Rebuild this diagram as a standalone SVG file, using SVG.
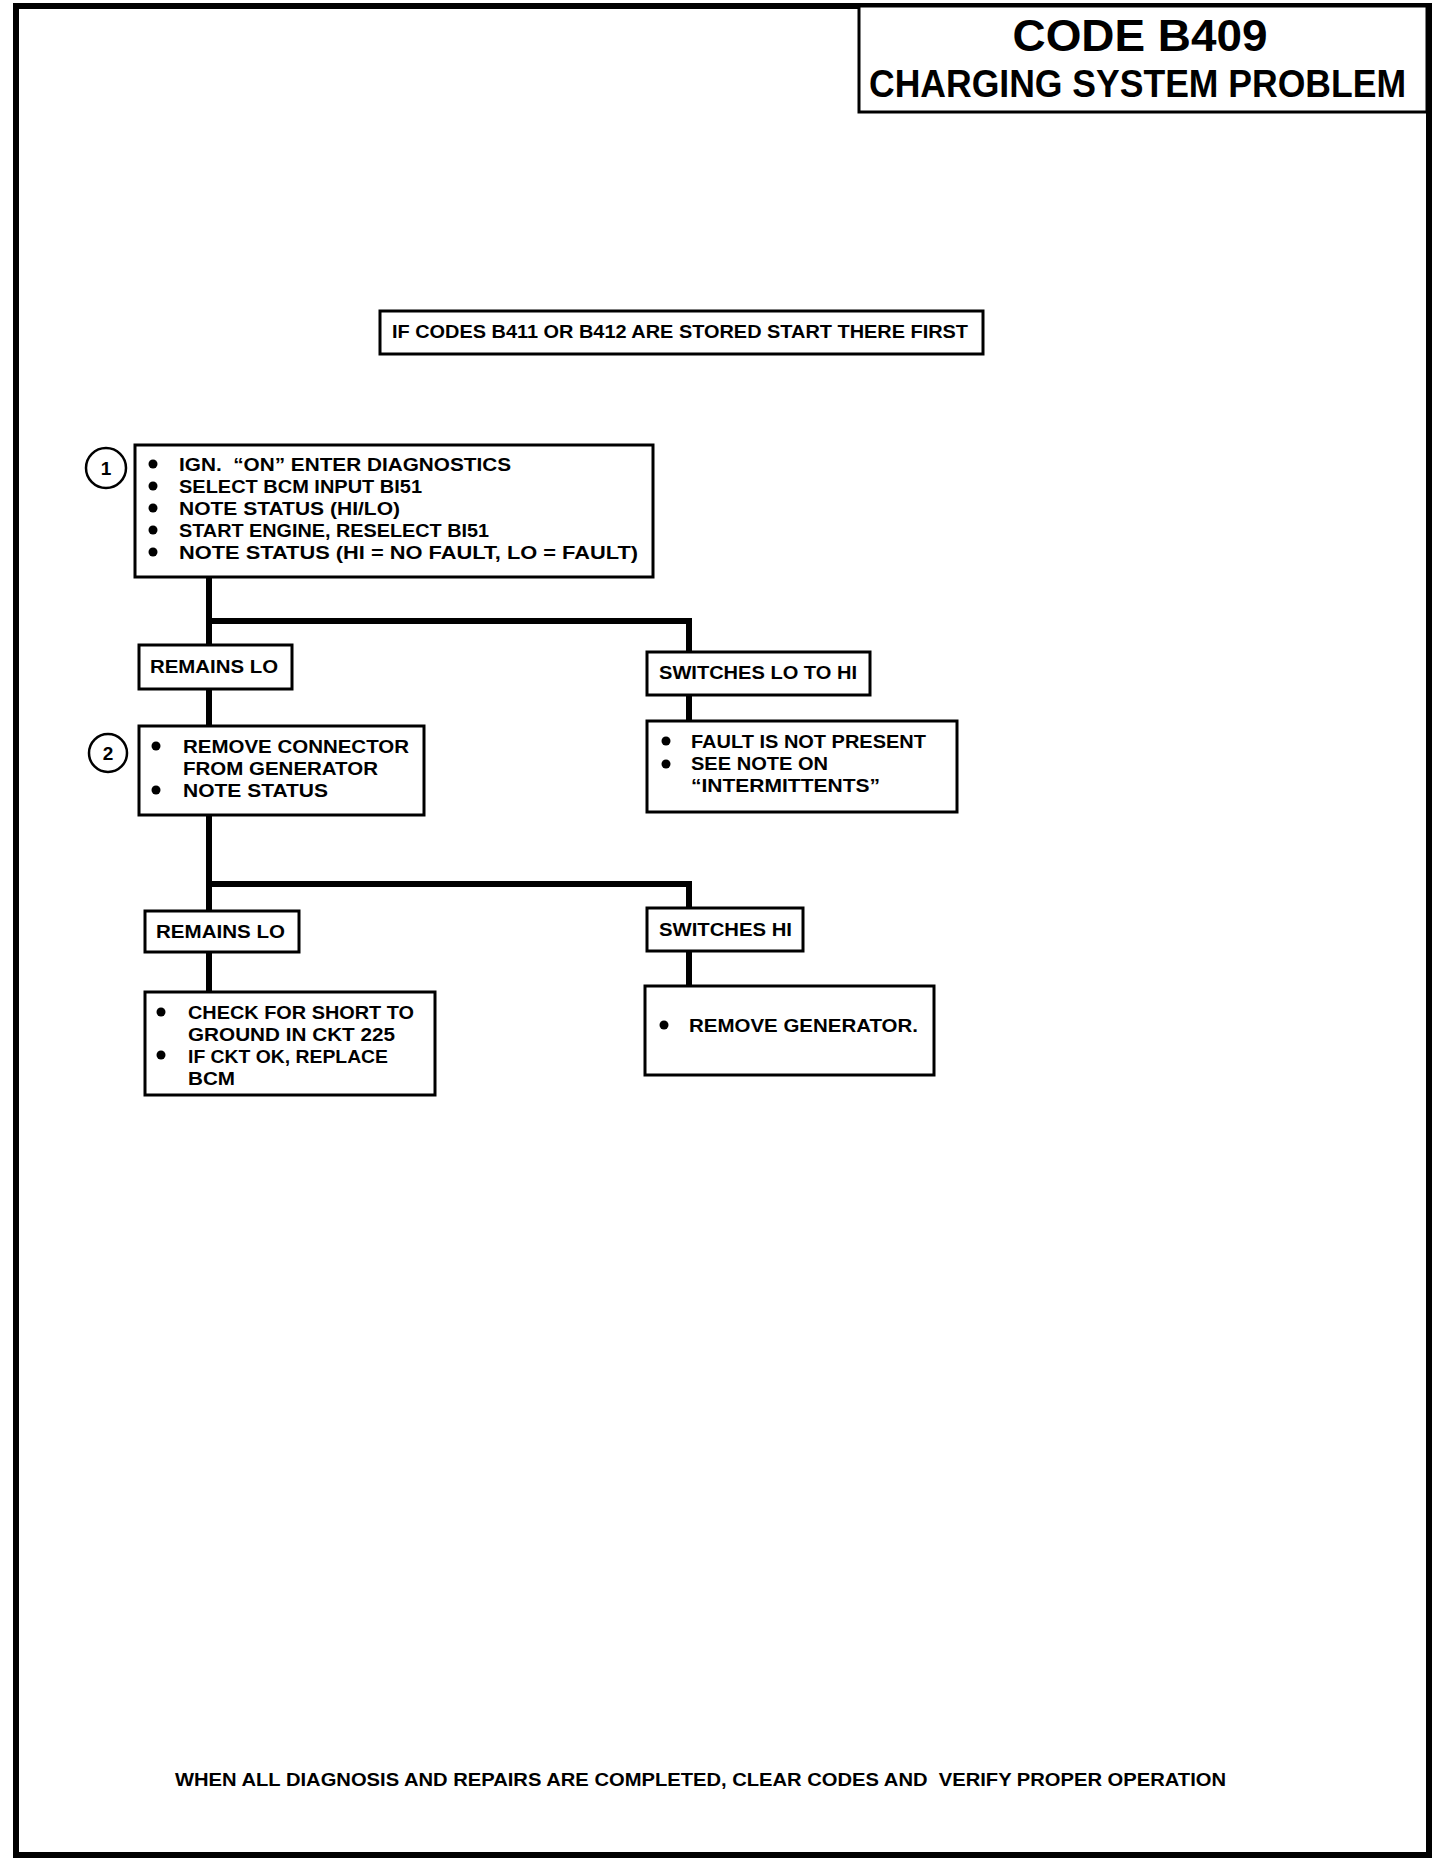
<svg xmlns="http://www.w3.org/2000/svg" width="1456" height="1862" viewBox="0 0 1456 1862">
<style>
.box{fill:#fff;stroke:#000;stroke-width:3}
.t{font-family:"Liberation Sans",Arial,sans-serif;font-weight:bold;font-size:19px;fill:#000}
.h1{font-family:"Liberation Sans",Arial,sans-serif;font-weight:bold;font-size:45px;fill:#000}
.h2{font-family:"Liberation Sans",Arial,sans-serif;font-weight:bold;font-size:38px;fill:#000}
.conn{fill:none;stroke:#000;stroke-width:6;stroke-linecap:square}
.num{fill:#fff;stroke:#000;stroke-width:2.5}
</style>
<rect x="0" y="0" width="1456" height="1862" fill="#fff"/>
<rect x="16" y="6" width="1413" height="1849" fill="none" stroke="#000" stroke-width="6"/>
<g id="title">
<rect x="859" y="6" width="568" height="106" fill="#fff" stroke="#000" stroke-width="3"/>
<text class="h1" x="1140" y="51" text-anchor="middle" textLength="255" lengthAdjust="spacingAndGlyphs">CODE B409</text>
<text class="h2" x="869" y="97" textLength="537" lengthAdjust="spacingAndGlyphs">CHARGING SYSTEM PROBLEM</text>
</g>
<g id="connectors">
<polyline class="conn" points="209,577 209,645"/>
<polyline class="conn" points="209,621 689,621 689,652"/>
<polyline class="conn" points="209,689 209,726"/>
<polyline class="conn" points="689,695 689,721"/>
<polyline class="conn" points="209,815 209,911"/>
<polyline class="conn" points="209,884 689,884 689,908"/>
<polyline class="conn" points="209,952 209,992"/>
<polyline class="conn" points="689,951 689,986"/>
</g>
<g id="note">
<rect class="box" x="380" y="311" width="603" height="43"/>
<text class="t" x="392" y="338" textLength="576" lengthAdjust="spacingAndGlyphs">IF CODES B411 OR B412 ARE STORED START THERE FIRST</text>
</g>
<g id="step1">
<circle class="num" cx="106" cy="468" r="20"/>
<text class="t" x="106" y="475" text-anchor="middle">1</text>
<rect class="box" x="135" y="445" width="518" height="132"/>
<circle cx="153" cy="464" r="4.5"/><circle cx="153" cy="486" r="4.5"/><circle cx="153" cy="508" r="4.5"/><circle cx="153" cy="530" r="4.5"/><circle cx="153" cy="552" r="4.5"/>
<text class="t" x="179" y="471" xml:space="preserve" textLength="332" lengthAdjust="spacingAndGlyphs">IGN.  “ON” ENTER DIAGNOSTICS</text>
<text class="t" x="179" y="493" textLength="243" lengthAdjust="spacingAndGlyphs">SELECT BCM INPUT BI51</text>
<text class="t" x="179" y="515" textLength="221" lengthAdjust="spacingAndGlyphs">NOTE STATUS (HI/LO)</text>
<text class="t" x="179" y="537" textLength="310" lengthAdjust="spacingAndGlyphs">START ENGINE, RESELECT BI51</text>
<text class="t" x="179" y="559" textLength="459" lengthAdjust="spacingAndGlyphs">NOTE STATUS (HI = NO FAULT, LO = FAULT)</text>
</g>
<g id="remainsLo1">
<rect class="box" x="139" y="645" width="153" height="44"/>
<text class="t" x="150" y="673" textLength="128" lengthAdjust="spacingAndGlyphs">REMAINS LO</text>
</g>
<g id="switchesLoToHi">
<rect class="box" x="647" y="652" width="223" height="43"/>
<text class="t" x="659" y="679" textLength="198" lengthAdjust="spacingAndGlyphs">SWITCHES LO TO HI</text>
</g>
<g id="step2">
<circle class="num" cx="108" cy="753" r="19"/>
<text class="t" x="108" y="760" text-anchor="middle">2</text>
<rect class="box" x="139" y="726" width="285" height="89"/>
<circle cx="156" cy="746" r="4.5"/><circle cx="156" cy="790" r="4.5"/>
<text class="t" x="183" y="753" textLength="226" lengthAdjust="spacingAndGlyphs">REMOVE CONNECTOR</text>
<text class="t" x="183" y="775" textLength="195" lengthAdjust="spacingAndGlyphs">FROM GENERATOR</text>
<text class="t" x="183" y="797" textLength="145" lengthAdjust="spacingAndGlyphs">NOTE STATUS</text>
</g>
<g id="faultNotPresent">
<rect class="box" x="647" y="721" width="310" height="91"/>
<circle cx="666" cy="741" r="4.5"/><circle cx="666" cy="764" r="4.5"/>
<text class="t" x="691" y="748" textLength="235" lengthAdjust="spacingAndGlyphs">FAULT IS NOT PRESENT</text>
<text class="t" x="691" y="770" textLength="137" lengthAdjust="spacingAndGlyphs">SEE NOTE ON</text>
<text class="t" x="691" y="792" textLength="189" lengthAdjust="spacingAndGlyphs">“INTERMITTENTS”</text>
</g>
<g id="remainsLo2">
<rect class="box" x="145" y="911" width="154" height="41"/>
<text class="t" x="156" y="938" textLength="129" lengthAdjust="spacingAndGlyphs">REMAINS LO</text>
</g>
<g id="switchesHi">
<rect class="box" x="647" y="908" width="156" height="43"/>
<text class="t" x="659" y="936" textLength="133" lengthAdjust="spacingAndGlyphs">SWITCHES HI</text>
</g>
<g id="checkShort">
<rect class="box" x="145" y="992" width="290" height="103"/>
<circle cx="161" cy="1012" r="4.5"/><circle cx="161" cy="1055" r="4.5"/>
<text class="t" x="188" y="1019" textLength="226" lengthAdjust="spacingAndGlyphs">CHECK FOR SHORT TO</text>
<text class="t" x="188" y="1041" textLength="207" lengthAdjust="spacingAndGlyphs">GROUND IN CKT 225</text>
<text class="t" x="188" y="1063" textLength="200" lengthAdjust="spacingAndGlyphs">IF CKT OK, REPLACE</text>
<text class="t" x="188" y="1085" textLength="47" lengthAdjust="spacingAndGlyphs">BCM</text>
</g>
<g id="removeGenerator">
<rect class="box" x="645" y="986" width="289" height="89"/>
<circle cx="664" cy="1025" r="4.5"/>
<text class="t" x="689" y="1032" textLength="229" lengthAdjust="spacingAndGlyphs">REMOVE GENERATOR.</text>
</g>
<g id="footer">
<text class="t" x="175" y="1786" xml:space="preserve" textLength="1051" lengthAdjust="spacingAndGlyphs">WHEN ALL DIAGNOSIS AND REPAIRS ARE COMPLETED, CLEAR CODES AND  VERIFY PROPER OPERATION</text>
</g>
</svg>
